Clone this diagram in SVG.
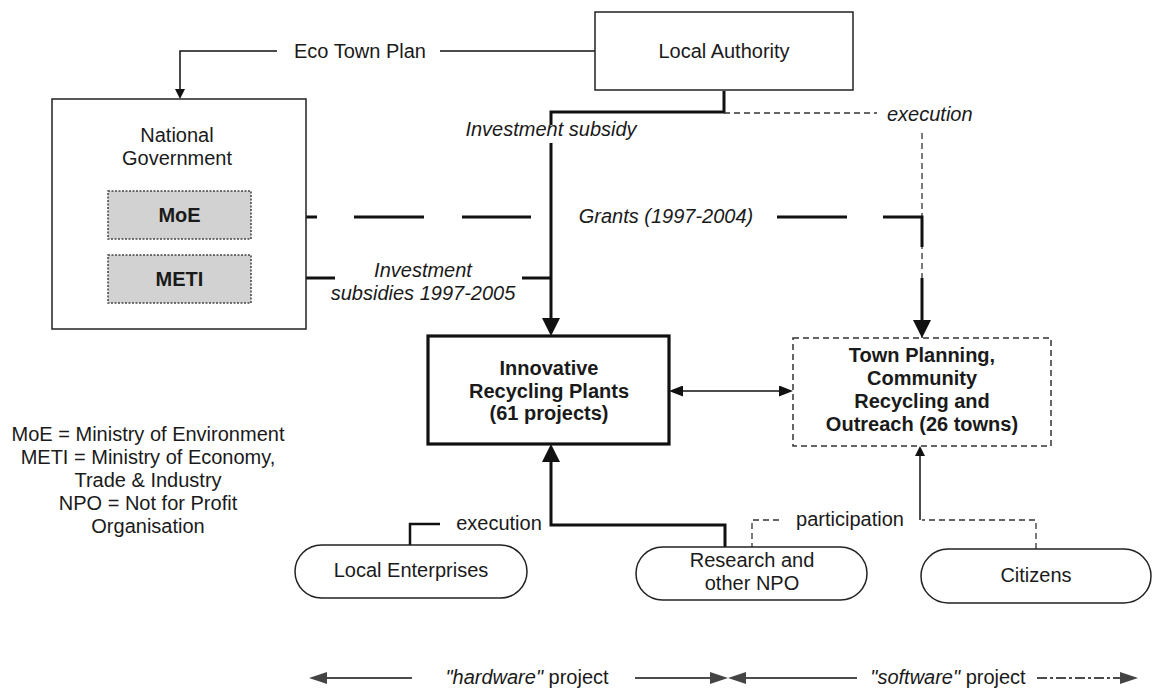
<svg xmlns="http://www.w3.org/2000/svg" width="1155" height="694" viewBox="0 0 1155 694">
<style>
  text { font-family: "Liberation Sans", Arial, sans-serif; font-size: 20px; fill: #1a1a1a; text-anchor: middle; }
  .b { font-weight: bold; }
  .i { font-style: italic; }
  .box { fill: #fff; stroke: #222; stroke-width: 1.5; }
  .thick { fill: #fff; stroke: #111; stroke-width: 3.2; }
  .gray { fill: #d2d2d2; stroke: #444; stroke-width: 1.5; stroke-dasharray: 2 1.5; }
  .dashbox { fill: #fff; stroke: #333; stroke-width: 1.5; stroke-dasharray: 6 4; }
  .pill { fill: #fff; stroke: #222; stroke-width: 1.5; }
  .c { fill: none; stroke: #111; }
  .w1 { stroke-width: 1.5; }
  .w3 { stroke-width: 3; }
  .dsh { stroke-width: 1.3; stroke-dasharray: 6 4; stroke: #333; }
</style>
<defs>
  <marker id="ah" viewBox="0 0 18 18" markerWidth="18" markerHeight="18" refX="4" refY="9" orient="auto-start-reverse" markerUnits="userSpaceOnUse">
    <path d="M0,0 L18,9 L0,18 z" fill="#111"/>
  </marker>
  <marker id="as" viewBox="0 0 10 10" markerWidth="10" markerHeight="10" refX="2" refY="5" orient="auto-start-reverse" markerUnits="userSpaceOnUse">
    <path d="M0,0 L10,5 L0,10 z" fill="#111"/>
  </marker>
  <marker id="am" viewBox="0 0 14 11" markerWidth="14" markerHeight="11" refX="2" refY="5.5" orient="auto-start-reverse" markerUnits="userSpaceOnUse">
    <path d="M0,0 L14,5.5 L0,11 z" fill="#111"/>
  </marker>
  <marker id="ag" viewBox="0 0 18 12" markerWidth="18" markerHeight="12" refX="2" refY="6" orient="auto-start-reverse" markerUnits="userSpaceOnUse">
    <path d="M0,0 L18,6 L0,12 z" fill="#444"/>
  </marker>
</defs>

<g id="connectors">
  <!-- Eco Town Plan -->
  <path class="c w1" d="M595,51 H440"/>
  <path class="c w1" d="M277,51 H180 V91" marker-end="url(#as)"/>
  <!-- Local Authority investment subsidy -->
  <path class="c w3" d="M724,91 V112 H551 V125"/>
  <path class="c w3" d="M551,143 V322" marker-end="url(#ah)"/>
  <!-- execution dashed -->
  <path class="c dsh" d="M724,113 H877"/>
  <path class="c dsh" d="M922,133 V338"/>
  <!-- Grants -->
  <path class="c w3" d="M251,217 H317 M354,217 H424 M462,217 H531 M777,217 H847 M883,217 H922 V247"/>
  <path class="c w3" d="M922,278 V324" marker-end="url(#ah)"/>
  <!-- METI investment subsidies -->
  <path class="c w3" d="M251,278 H335 M522,278 H551"/>
  <!-- double arrow -->
  <path class="c w1" d="M681,391 H781" marker-start="url(#am)" marker-end="url(#am)"/>
  <!-- Local Enterprises execution -->
  <path class="c" stroke-width="2.5" d="M410,545 V524 H440"/>
  <!-- Research execution -->
  <path class="c w3" d="M725,547 V525 H551 V458" marker-end="url(#ah)"/>
  <!-- participation -->
  <path class="c dsh" d="M779,520 H752 V547"/>
  <path class="c dsh" d="M1036,549 V520 H922"/>
  <path class="c w1" d="M920,520 V454" marker-end="url(#as)"/>
  <!-- bottom legend arrows -->
  <path class="c" stroke="#444" stroke-width="1.5" d="M412,678 H325" marker-end="url(#ag)"/>
  <path class="c" stroke="#444" stroke-width="1.5" d="M635,678 H712" marker-end="url(#ag)"/>
  <path class="c" stroke="#444" stroke-width="1.5" d="M857,678 H744" marker-end="url(#ag)"/>
  <path class="c" stroke="#666" stroke-width="1.5" stroke-dasharray="10 3 3 3" d="M1037,678 H1122" marker-end="url(#ag)"/>
</g>

<g id="local-authority">
  <rect class="box" x="595" y="12" width="258" height="78"/>
  <text x="724" y="58">Local Authority</text>
</g>

<g id="national-government">
  <rect class="box" x="52" y="99" width="254" height="230"/>
  <text x="177" y="142">National</text>
  <text x="177" y="165">Government</text>
</g>

<g id="moe">
  <rect class="gray" x="108" y="191" width="143" height="48"/>
  <text class="b" x="179.5" y="222">MoE</text>
</g>

<g id="meti">
  <rect class="gray" x="108" y="255" width="143" height="48"/>
  <text class="b" x="179.5" y="286">METI</text>
</g>

<g id="innovative-plants">
  <rect class="thick" x="428" y="336" width="241" height="108"/>
  <text class="b" x="549" y="375">Innovative</text>
  <text class="b" x="549" y="398">Recycling Plants</text>
  <text class="b" x="549" y="420">(61 projects)</text>
</g>

<g id="town-planning">
  <rect class="dashbox" x="793" y="338" width="258" height="108"/>
  <text class="b" x="922" y="362">Town Planning,</text>
  <text class="b" x="922" y="385">Community</text>
  <text class="b" x="922" y="408">Recycling and</text>
  <text class="b" x="922" y="431">Outreach (26 towns)</text>
</g>

<g id="local-enterprises">
  <rect class="pill" x="295" y="545" width="232" height="53" rx="26.5"/>
  <text x="411" y="577">Local Enterprises</text>
</g>

<g id="research-npo">
  <rect class="pill" x="636" y="547" width="231" height="53" rx="26.5"/>
  <text x="752" y="567">Research and</text>
  <text x="752" y="590">other NPO</text>
</g>

<g id="citizens">
  <rect class="pill" x="921" y="549" width="230" height="54" rx="27"/>
  <text x="1036" y="582">Citizens</text>
</g>

<g id="labels">
  <text x="360" y="58">Eco Town Plan</text>
  <text class="i" x="551" y="136">Investment subsidy</text>
  <text class="i" x="887" y="121" style="text-anchor:start">execution</text>
  <text class="i" x="666" y="223">Grants (1997-2004)</text>
  <text class="i" x="423" y="277">Investment</text>
  <text class="i" x="423" y="300">subsidies 1997-2005</text>
  <text x="499" y="530">execution</text>
  <text x="850" y="526">participation</text>
  <text x="527" y="684"><tspan class="i">"hardware"</tspan> project</text>
  <text x="948" y="684"><tspan class="i">"software"</tspan> project</text>
</g>

<g id="legend">
  <text x="148" y="441">MoE = Ministry of Environment</text>
  <text x="148" y="464">METI = Ministry of Economy,</text>
  <text x="148" y="487">Trade &amp; Industry</text>
  <text x="148" y="510">NPO = Not for Profit</text>
  <text x="148" y="533">Organisation</text>
</g>
</svg>
